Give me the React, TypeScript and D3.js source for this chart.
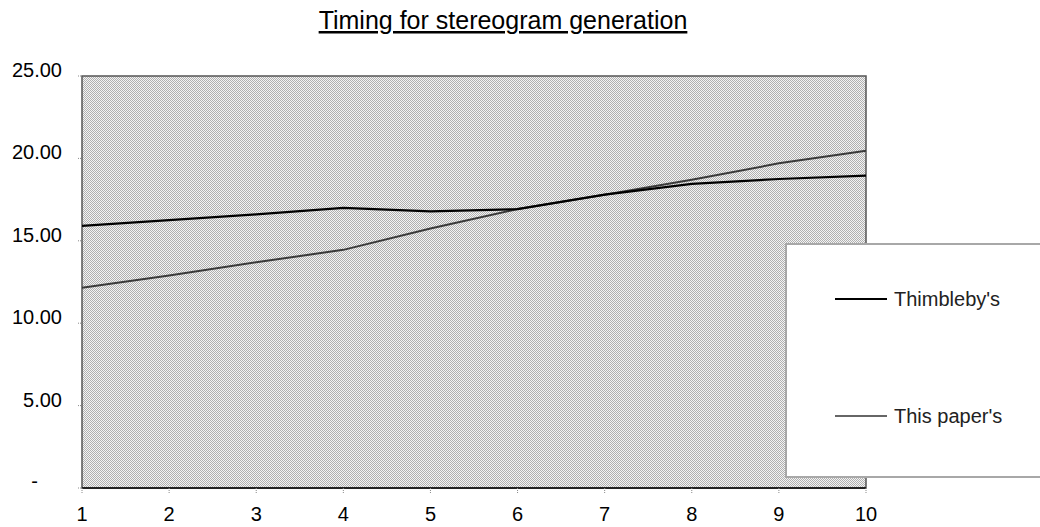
import { useRef, useEffect } from "react";
import * as d3 from "d3";

const categories = ["1", "2", "3", "4", "5", "6", "7", "8", "9", "10"];
const thimblebyValues = [15.9, 16.25, 16.6, 17.0, 16.78, 16.92, 17.8, 18.45, 18.75, 18.95];
const thisPaperValues = [12.15, 12.9, 13.7, 14.45, 15.75, 16.93, 17.8, 18.7, 19.7, 20.47];
const yTicks = [0, 5, 10, 15, 20, 25];
const seriesNames = ["Thimbleby's", "This paper's"];

const W = 1040;
const H = 527;
const FONT = "'Liberation Sans', Arial, sans-serif";

export default function App() {
  const svgRef = useRef<SVGSVGElement>(null);

  useEffect(() => {
    if (!svgRef.current) return;
    const svg = d3.select(svgRef.current);
    svg.selectAll("*").remove();

    const left = 82;
    const right = 866;
    const top = 76;
    const bottom = 488;

    const x = d3.scalePoint<string>().domain(categories).range([left, right]);
    const y = d3.scaleLinear().domain([0, 25]).range([bottom, top]);

    // dither pattern for the plot area
    const defs = svg.append("defs");
    const pat = defs
      .append("pattern")
      .attr("id", "dither")
      .attr("width", 2)
      .attr("height", 2)
      .attr("patternUnits", "userSpaceOnUse");
    pat.append("rect").attr("width", 2).attr("height", 2).attr("fill", "#f4f4f4");
    pat.append("rect").attr("width", 1).attr("height", 1).attr("fill", "#b0b0b0");
    pat.append("rect").attr("x", 1).attr("y", 1).attr("width", 1).attr("height", 1).attr("fill", "#b0b0b0");

    svg.append("rect").attr("width", W).attr("height", H).attr("fill", "#fff");

    // title
    svg
      .append("text")
      .attr("x", 503)
      .attr("y", 29)
      .attr("text-anchor", "middle")
      .attr("font-family", FONT)
      .attr("font-size", "25px")
      .attr("text-decoration", "underline")
      .attr("fill", "#000")
      .text("Timing for stereogram generation");

    // plot area
    svg
      .append("rect")
      .attr("x", left)
      .attr("y", top)
      .attr("width", right - left)
      .attr("height", bottom - top)
      .attr("fill", "url(#dither)")
      .attr("stroke", "#555")
      .attr("stroke-width", 1.5);

    // y axis ticks + labels
    const yAxis = svg.append("g");
    yTicks.forEach((t) => {
      yAxis
        .append("line")
        .attr("x1", left - 4)
        .attr("x2", left)
        .attr("y1", y(t))
        .attr("y2", y(t))
        .attr("stroke", "#888")
        .attr("stroke-dasharray", "1,1");
      yAxis
        .append("text")
        .attr("x", t === 0 ? 38 : 62)
        .attr("y", t === 0 ? y(t) : y(t) + 1)
        .attr("text-anchor", "end")
        .attr("font-family", FONT)
        .attr("font-size", "20px")
        .attr("fill", "#000")
        .text(t === 0 ? "-" : d3.format(".2f")(t));
    });

    // x axis
    svg
      .append("line")
      .attr("x1", left)
      .attr("x2", right)
      .attr("y1", bottom)
      .attr("y2", bottom)
      .attr("stroke", "#222")
      .attr("stroke-width", 2);

    const xAxis = svg.append("g");
    categories.forEach((c) => {
      xAxis
        .append("line")
        .attr("x1", x(c)!)
        .attr("x2", x(c)!)
        .attr("y1", bottom)
        .attr("y2", bottom + 5)
        .attr("stroke", "#888")
        .attr("stroke-dasharray", "1,1");
      xAxis
        .append("text")
        .attr("x", x(c)!)
        .attr("y", 521)
        .attr("text-anchor", "middle")
        .attr("font-family", FONT)
        .attr("font-size", "20px")
        .attr("fill", "#000")
        .text(c);
    });

    // lines
    const line = d3
      .line<number>()
      .x((_, i) => x(categories[i])!)
      .y((d) => y(d));

    svg
      .append("path")
      .attr("d", line(thisPaperValues)!)
      .attr("fill", "none")
      .attr("stroke", "#3a3a3a")
      .attr("stroke-width", 2);

    svg
      .append("path")
      .attr("d", line(thimblebyValues)!)
      .attr("fill", "none")
      .attr("stroke", "#000")
      .attr("stroke-width", 2.2);

    // legend
    const lg = svg.append("g");
    lg.append("rect")
      .attr("x", 786)
      .attr("y", 244)
      .attr("width", 260)
      .attr("height", 233)
      .attr("fill", "#fff")
      .attr("stroke", "#a8a8a8")
      .attr("stroke-width", 2);

    const legendY = [299, 416];
    const legendColors = ["#000", "#666"];
    seriesNames.forEach((name, i) => {
      lg.append("line")
        .attr("x1", 835)
        .attr("x2", 887)
        .attr("y1", legendY[i])
        .attr("y2", legendY[i])
        .attr("stroke", legendColors[i])
        .attr("stroke-width", 2);
      lg.append("text")
        .attr("x", 894)
        .attr("y", legendY[i] + 7)
        .attr("font-family", FONT)
        .attr("font-size", "20px")
        .attr("fill", "#222")
        .text(name);
    });
  }, []);

  return (
    <svg
      ref={svgRef}
      width={W}
      height={H}
      style={{ position: "absolute", left: 0, top: 0, display: "block" }}
      role="img"
      aria-label="Timing for stereogram generation"
    />
  );
}
